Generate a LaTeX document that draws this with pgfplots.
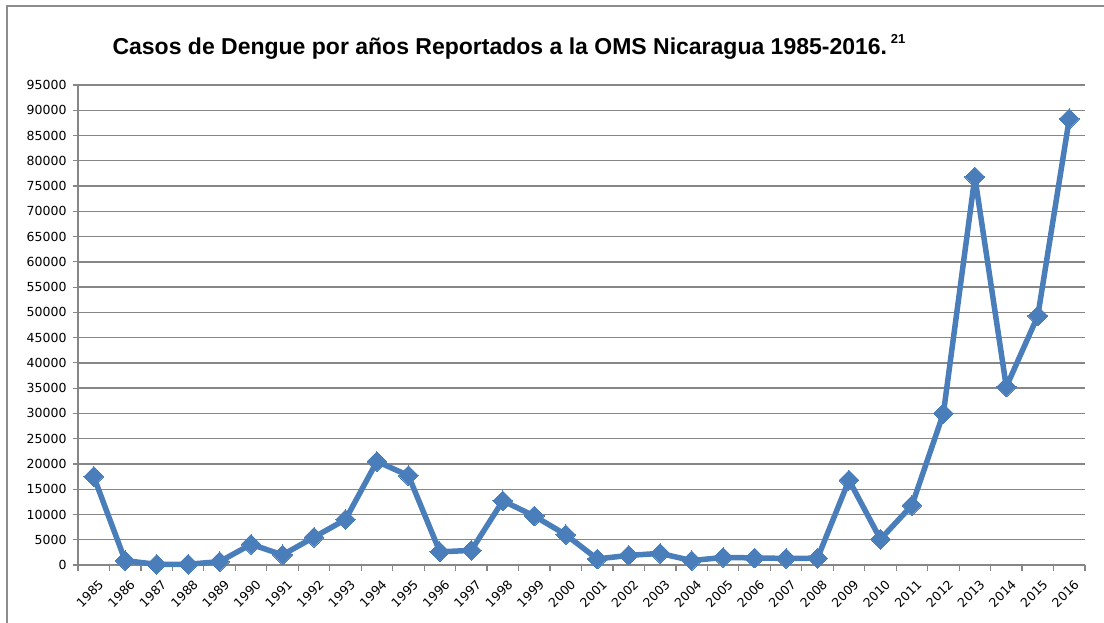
\documentclass[border=0pt]{standalone}
\usepackage{pgfplots}
\pgfplotsset{compat=1.18}
\usepackage{fontspec}
\setmainfont{Liberation Sans}
\newfontfamily\tickfont{DejaVu Sans}
\definecolor{serie}{RGB}{74,126,187}
\definecolor{gridgray}{RGB}{134,134,134}
\definecolor{framegray}{RGB}{140,140,140}
\begin{document}
\begin{tikzpicture}
\useasboundingbox (-78pt,-58pt) rectangle (1026pt,565pt);
\draw[framegray, line width=2pt] (-71pt,-70pt) -- (-71pt,559pt) -- (1040pt,559pt);
\node[font=\bfseries\fontsize{23}{26}\selectfont, anchor=center] at (431pt,518pt)
  {Casos de Dengue por años Reportados a la OMS Nicaragua 1985-2016.\,\raisebox{0.45em}{\fontsize{13}{14}\selectfont 21}};
\begin{axis}[
  scale only axis,
  width=1007pt, height=480pt,
  at={(0pt,0pt)}, anchor=south west,
  xmin=-0.5, xmax=31.5,
  ymin=0, ymax=95000,
  ytick={0,5000,...,95000},
  scaled y ticks=false,
  /pgf/number format/fixed,
  /pgf/number format/1000 sep={},
  /pgf/number format/assume math mode=true,
  ymajorgrids,
  grid style={gridgray, line width=1.4pt},
  axis x line*=bottom, axis y line*=left,
  axis line style={gridgray, line width=1.4pt, -},
  xtick={0,...,31},
  xticklabels={1985,1986,1987,1988,1989,1990,1991,1992,1993,1994,1995,1996,1997,1998,1999,2000,2001,2002,2003,2004,2005,2006,2007,2008,2009,2010,2011,2012,2013,2014,2015,2016},
  minor xtick={-0.5,0.5,...,31.5},
  major tick length=5pt,
  minor tick length=6pt,
  tick align=outside,
  tick style={gridgray, line width=1.2pt},
  xtick style={draw=none},
  minor x tick style={draw=gridgray, line width=1.2pt},
  tick label style={font=\tickfont\fontsize{12.5}{14}\selectfont, text=black},
  xticklabel style={rotate=45, anchor=east, xshift=0pt, yshift=-14pt},
  yticklabel style={xshift=-3pt},
  clip=false,
]
\addplot[serie, line width=5.5pt, line join=round, mark=square*, mark size=7pt,
  mark options={rotate=45, line width=0pt, fill=serie, draw=serie}]
  coordinates {
(0,17500) (1,860) (2,130) (3,150) (4,660) (5,4100) (6,2000) (7,5500) (8,9000) (9,20500)
(10,17700) (11,2600) (12,2900) (13,12700) (14,9700) (15,6000) (16,1200) (17,1900) (18,2300) (19,870)
(20,1500) (21,1400) (22,1300) (23,1350) (24,16800) (25,5100) (26,11800) (27,30000) (28,76800) (29,35250)
(30,49300) (31,88300)
};
\end{axis}
\end{tikzpicture}
\end{document}
